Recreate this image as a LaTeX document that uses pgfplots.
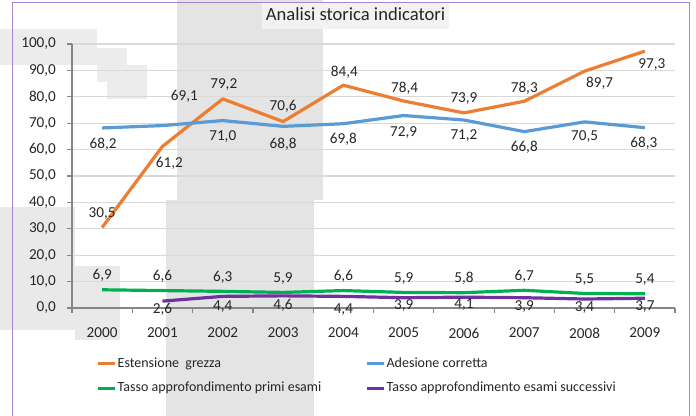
\documentclass[border=0pt]{standalone}
\usepackage{fontspec}
\setmainfont{Carlito}
\usepackage{pgfplots}
\pgfplotsset{compat=1.18}
\definecolor{cOrange}{HTML}{ED7D31}
\definecolor{cBlue}{HTML}{5B9BD5}
\definecolor{cGreen}{HTML}{00B050}
\definecolor{cPurple}{HTML}{7030A0}
\definecolor{gridgray}{HTML}{D9D9D9}
\definecolor{axisgray}{HTML}{868686}
\definecolor{bgband}{RGB}{228,228,228}
\definecolor{titlebox}{RGB}{242,242,242}
\definecolor{frame}{RGB}{172,132,205}
\definecolor{txt}{HTML}{262626}

\pgfplotsset{
  lbl/.style={
    line width=1.6pt, mark=none, line join=round, forget plot,
    nodes near coords={\pgfmathprintnumber[fixed,fixed zerofill,precision=1,use comma,assume math mode=true]{\pgfplotspointmeta}},
    visualization depends on={\thisrow{dx}\as\dx},
    visualization depends on={\thisrow{dy}\as\dy},
    every node near coord/.append style={anchor=center, inner sep=0pt,
      xshift={(\dx)*0.5pt}, yshift={(\dy)*0.5pt},
      font=\fontsize{7.6}{9}\selectfont, text=txt},
  }
}

\begin{document}
\begin{tikzpicture}[x=0.5pt,y=0.5pt]
\path[use as bounding box] (0,0) rectangle (696,416);
% background blotches
\fill[bgband] (177,216) rectangle (323,416);
\fill[bgband] (166,0) rectangle (314,216);
\fill[bgband!70!white] (0,351) rectangle (97,387);
\fill[bgband!70!white] (97,334) rectangle (127,368);
\fill[bgband!70!white] (107,317) rectangle (147,351);
\fill[bgband!80!white] (0,86) rectangle (75,209);
\fill[bgband!80!white] (75,76) rectangle (120,150);
\fill[titlebox] (262,387) rectangle (449,413);
\begin{axis}[
  at={(36pt,54pt)}, anchor=south west,
  scale only axis, width=301.5pt, height=132pt,
  xmin=-0.5, xmax=9.5, ymin=0, ymax=100,
  xtick={-0.5,0.5,1.5,2.5,3.5,4.5,5.5,6.5,7.5,8.5,9.5},
  x tick label as interval,
  xticklabels={2000,2001,2002,2003,2004,2005,2006,2007,2008,2009},
  ytick={0,10,...,100},
  yticklabel={\pgfmathprintnumber[fixed,fixed zerofill,precision=1,use comma,assume math mode=true]{\tick}},
  axis x line=bottom, axis y line=left,
  axis line style={-, draw=axisgray, line width=0.6pt},
  tick align=outside, major tick length=2.5pt,
  tick style={draw=axisgray, line width=0.6pt},
  ymajorgrids, major grid style={gridgray, line width=0.6pt},
  tick label style={font=\fontsize{7.6}{9}\selectfont, text=txt},
  xticklabel style={yshift=-4pt},
  yticklabel style={xshift=-2pt},
  legend columns=2,
  legend cell align=left,
  legend style={at={(axis description cs:0.04,-0.182)}, anchor=north west,
    draw=none, fill=none, inner sep=0pt, row sep=5pt,
    font=\fontsize{7}{8}\selectfont, text=txt,
    nodes={inner sep=0.5pt, text depth=0.15em},
    /tikz/every even column/.append style={column sep=21.5pt}},
  legend image code/.code={\draw[#1, line width=1.6pt] (0pt,0pt)--(8.5pt,0pt);},
  clip=false,
]
\addlegendimage{cOrange}
\addlegendentry{Estensione~ grezza}
\addlegendimage{cBlue}
\addlegendentry{Adesione corretta}
\addlegendimage{cGreen}
\addlegendentry{Tasso approfondimento primi esami}
\addlegendimage{cPurple}
\addlegendentry{Tasso approfondimento esami successivi}
% x y dx dy  (dx, dy: label offset in pixels)
\addplot[cOrange, lbl] table[x=x,y=y] {
x y dx dy
0 30.5 0 14
1 61.2 7 -17
2 79.2 1 14
3 70.6 0 15
4 84.4 1 13
5 78.4 1 13
6 73.9 0 14
7 78.3 0 13
8 89.7 15 -12
9 97.3 7 -13
};
\addplot[cBlue, lbl] table[x=x,y=y] {
x y dx dy
0 68.2 1 -16
1 69.1 22 29
2 71.0 0 -16
3 68.8 0 -18
4 69.8 0 -16
5 72.9 0 -17
6 71.2 0 -16
7 66.8 0 -16
8 70.5 0 -15
9 68.3 -1 -16
};
\addplot[cGreen, lbl] table[x=x,y=y] {
x y dx dy
0 6.9 0 14
1 6.6 0 14
2 6.3 0 14
3 5.9 0 14
4 6.6 0 14
5 5.9 0 14
6 5.8 0 14
7 6.7 0 14
8 5.5 0 14
9 5.4 0 14
};
\addplot[cPurple, lbl] table[x=x,y=y] {
x y dx dy
1 2.6 0 -8
2 4.4 0 -10
3 4.6 0 -9
4 4.4 0 -13
5 3.9 0 -8
6 4.1 0 -7
7 3.9 0 -9
8 3.4 0 -9
9 3.7 0 -8
};
\end{axis}
\node[anchor=base, font=\fontsize{9.3}{11}\selectfont, text=txt] at (355.5,395) {Analisi storica indicatori};
\draw[frame, line width=0.5pt] (12,-5) -- (12,413) -- (689,413) -- (689,-5);
\end{tikzpicture}
\end{document}
